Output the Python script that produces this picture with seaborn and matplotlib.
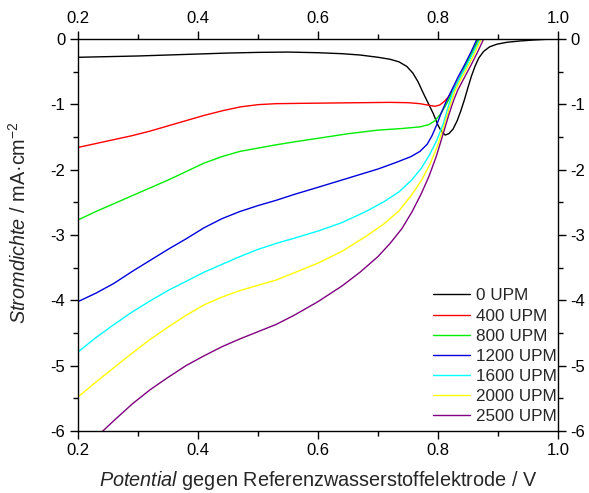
import matplotlib
matplotlib.use("Agg")
import matplotlib.pyplot as plt
import seaborn as sns
import pandas as pd
from matplotlib.ticker import MultipleLocator

# ---- data ----
labels = ["0 UPM", "400 UPM", "800 UPM", "1200 UPM", "1600 UPM", "2000 UPM", "2500 UPM"]
colors = ["#000000", "#ff0000", "#00ee00", "#0000dd", "#00ffff", "#ffff00", "#800080"]

x0 = [0.2, 0.25, 0.3, 0.35, 0.4, 0.45, 0.5, 0.55, 0.6, 0.64, 0.67, 0.70, 0.72, 0.735, 0.748,
      0.758, 0.767, 0.775, 0.784, 0.792, 0.80, 0.806, 0.812, 0.818, 0.825, 0.832, 0.838, 0.844,
      0.85, 0.856, 0.862, 0.868, 0.876, 0.886, 0.898, 0.915, 0.937, 0.96, 0.98, 1.0]
y0 = [-0.28, -0.27, -0.26, -0.245, -0.23, -0.215, -0.205, -0.20, -0.21, -0.225, -0.245, -0.28,
      -0.31, -0.35, -0.42, -0.52, -0.66, -0.82, -0.99, -1.14, -1.32, -1.42, -1.47, -1.45, -1.38,
      -1.25, -1.10, -0.93, -0.74, -0.56, -0.41, -0.29, -0.19, -0.12, -0.08, -0.05, -0.03, -0.015,
      -0.005, 0.0]

x400 = [0.2, 0.23, 0.26, 0.29, 0.32, 0.35, 0.38, 0.41, 0.44, 0.47, 0.50, 0.53, 0.57, 0.62,
        0.67, 0.72, 0.75, 0.77, 0.785, 0.795, 0.803, 0.81, 0.817, 0.825, 0.835, 0.847, 0.858,
        0.868, 1.0]
y400 = [-1.66, -1.60, -1.54, -1.48, -1.41, -1.33, -1.25, -1.17, -1.10, -1.04, -1.005, -0.99,
        -0.985, -0.98, -0.975, -0.97, -0.975, -0.99, -1.015, -1.03, -1.01, -0.96, -0.89, -0.78,
        -0.61, -0.40, -0.20, 0.0, 0.0]

x800 = [0.2, 0.23, 0.26, 0.29, 0.32, 0.35, 0.38, 0.41, 0.44, 0.47, 0.50, 0.53, 0.56, 0.60,
        0.65, 0.70, 0.74, 0.77, 0.785, 0.795, 0.805, 0.815, 0.825, 0.836, 0.846, 0.857, 0.867, 1.0]
y800 = [-2.77, -2.64, -2.52, -2.40, -2.28, -2.16, -2.03, -1.90, -1.80, -1.72, -1.67, -1.62,
        -1.575, -1.52, -1.45, -1.395, -1.37, -1.345, -1.31, -1.25, -1.14, -0.98, -0.80, -0.60,
        -0.40, -0.20, 0.0, 0.0]

x1200 = [0.2, 0.23, 0.26, 0.29, 0.32, 0.35, 0.38, 0.41, 0.44, 0.47, 0.50, 0.53, 0.56, 0.60,
         0.65, 0.70, 0.73, 0.755, 0.77, 0.782, 0.79, 0.798, 0.805, 0.813, 0.823, 0.833, 0.844,
         0.855, 0.865, 1.0]
y1200 = [-4.02, -3.89, -3.74, -3.56, -3.39, -3.22, -3.06, -2.89, -2.75, -2.64, -2.55, -2.47,
         -2.38, -2.27, -2.13, -1.99, -1.89, -1.80, -1.72, -1.61, -1.48, -1.31, -1.14, -0.97,
         -0.78, -0.59, -0.40, -0.20, 0.0, 0.0]

x1600 = [0.2, 0.23, 0.26, 0.29, 0.32, 0.35, 0.38, 0.41, 0.44, 0.47, 0.50, 0.53, 0.56, 0.60,
         0.64, 0.68, 0.71, 0.735, 0.755, 0.772, 0.786, 0.798, 0.809, 0.817, 0.825, 0.836, 0.848,
         0.859, 0.870, 1.0]
y1600 = [-4.79, -4.57, -4.37, -4.18, -4.01, -3.85, -3.71, -3.57, -3.45, -3.33, -3.22, -3.13,
         -3.05, -2.94, -2.81, -2.64, -2.49, -2.34, -2.17, -1.98, -1.77, -1.55, -1.29, -1.04,
         -0.80, -0.60, -0.40, -0.20, 0.0, 0.0]

x2000 = [0.2, 0.23, 0.26, 0.29, 0.32, 0.35, 0.38, 0.41, 0.44, 0.47, 0.50, 0.53, 0.56, 0.60,
         0.64, 0.68, 0.71, 0.735, 0.755, 0.772, 0.787, 0.799, 0.809, 0.818, 0.828, 0.839, 0.851,
         0.862, 0.872, 1.0]
y2000 = [-5.48, -5.25, -5.03, -4.81, -4.60, -4.41, -4.23, -4.07, -3.95, -3.85, -3.77, -3.69,
         -3.58, -3.43, -3.25, -3.02, -2.83, -2.63, -2.40, -2.17, -1.91, -1.64, -1.36, -1.08,
         -0.80, -0.60, -0.40, -0.20, 0.0, 0.0]

x2500 = [0.2, 0.23, 0.26, 0.29, 0.32, 0.35, 0.38, 0.41, 0.44, 0.47, 0.50, 0.53, 0.56, 0.60,
         0.64, 0.67, 0.70, 0.72, 0.74, 0.757, 0.772, 0.785, 0.797, 0.808, 0.818, 0.826, 0.833,
         0.844, 0.855, 0.866, 0.876, 1.0]
y2500 = [-6.34, -6.10, -5.84, -5.59, -5.37, -5.18, -5.00, -4.85, -4.71, -4.59, -4.48, -4.37,
         -4.23, -4.02, -3.78, -3.57, -3.33, -3.13, -2.90, -2.64, -2.37, -2.10, -1.80, -1.47,
         -1.16, -0.94, -0.78, -0.59, -0.40, -0.20, 0.0, 0.0]

xs = [x0, x400, x800, x1200, x1600, x2000, x2500]
ys = [y0, y400, y800, y1200, y1600, y2000, y2500]

xticks = [0.2, 0.4, 0.6, 0.8, 1.0]
yticks = [0, -1, -2, -3, -4, -5, -6]

frames = []
for lab, xv, yv in zip(labels, xs, ys):
    frames.append(pd.DataFrame({"x": xv, "y": yv, "series": lab}))
df = pd.concat(frames, ignore_index=True)

# ---- style ----
sns.set_theme(style="ticks")
plt.rcParams["font.family"] = ["Liberation Sans", "DejaVu Sans"]
plt.rcParams["mathtext.fontset"] = "custom"
plt.rcParams["mathtext.rm"] = "Liberation Sans"
plt.rcParams["mathtext.it"] = "Liberation Sans:italic"

fig = plt.figure(figsize=(5.89, 4.93), dpi=100)
ax = fig.add_axes([0.1324, 0.1258, 0.815, 0.7951])

sns.lineplot(data=df, x="x", y="y", hue="series", hue_order=labels,
             palette=dict(zip(labels, colors)), sort=False, estimator=None,
             linewidth=1.0, ax=ax)

ax.set_xlim(0.2, 1.0)
ax.set_ylim(-6, 0)
ax.set_xticks(xticks)
ax.set_xticklabels([f"{v:.1f}" for v in xticks])
ax.set_yticks(yticks)
ax.set_yticklabels([str(v) for v in yticks])
ax.xaxis.set_minor_locator(MultipleLocator(0.1))
ax.yaxis.set_minor_locator(MultipleLocator(0.5))
ax.tick_params(which="both", direction="out", top=True, right=True,
               labeltop=True, labelright=True, colors="black", labelsize=12, pad=3)
ax.tick_params(which="major", length=6, width=1)
ax.tick_params(which="minor", length=3.5, width=1)
for s in ax.spines.values():
    s.set_color("black")
    s.set_linewidth(1.0)

ax.set_xlabel(r"$\mathit{Potential}$ gegen Referenzwasserstoffelektrode / V", fontsize=14.3, labelpad=7.5)
ax.set_ylabel(r"$\mathit{Stromdichte}$ / mA·cm$^{-2}$", fontsize=14.3)
ax.yaxis.set_label_coords(-0.1, 0.533)

handles, labs = ax.get_legend_handles_labels()
ax.legend(handles, labs, loc="lower right", frameon=False, fontsize=12.3,
          handlelength=2.2, labelspacing=0.3, handletextpad=0.35,
          borderaxespad=0.0, bbox_to_anchor=(1.012, 0.0))

fig.savefig("out.png", dpi=100)
